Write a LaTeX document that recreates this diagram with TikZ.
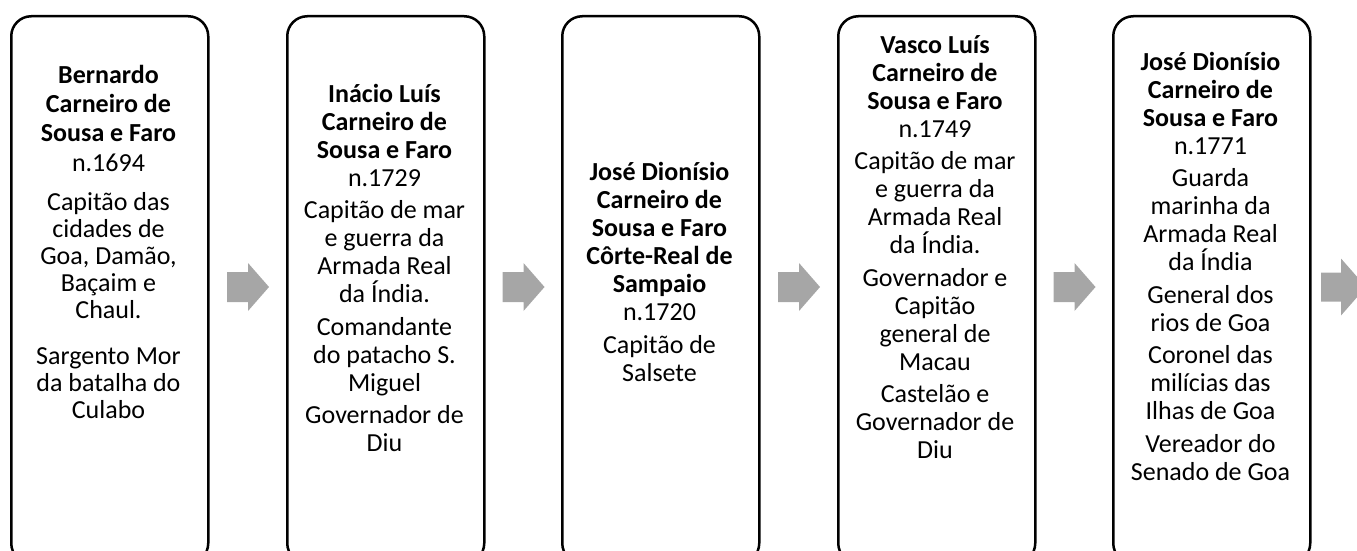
\documentclass[tikz,border=0pt]{standalone}
\usepackage{fontspec}
\setmainfont{Carlito}
\definecolor{arrowgray}{HTML}{A6A6A6}
\begin{document}
\begin{tikzpicture}[x=1pt,y=1pt,
  card/.style={draw=black, line width=2.5pt, rounded corners=20pt, minimum width=197pt, minimum height=547pt, inner sep=0pt, anchor=north west},
  txt/.style={anchor=north, align=center, inner sep=0pt, font=\fontsize{26}{28}\selectfont},
  blockarr/.pic={\fill[arrowgray] (-20.5,-15) -- (0.5,-15) -- (0.5,-24) -- (21.5,0) -- (0.5,24) -- (0.5,15) -- (-20.5,15) -- cycle;},
  lastarr/.pic={\fill[arrowgray] (0,-14.5) -- (20,-14.5) -- (20,-28.5) -- (45,0) -- (20,28.5) -- (20,14.5) -- (0,14.5) -- cycle;}]
\useasboundingbox (0,0) rectangle (1357,-551);
\begin{scope}
\clip (0,0) rectangle (1357,-551);
\node[card] (b1) at (10,-15) {};
\node[card] (b2) at (286,-15) {};
\node[card] (b3) at (561,-15) {};
\node[card] (b4) at (837,-15) {};
\node[card] (b5) at (1112,-15) {};

\node[txt, font=\fontsize{26}{27}\selectfont] (t1) at (108.5,-63) {\rule{0pt}{20pt}\textbf{Bernardo}\\[2pt]\textbf{Carneiro de}\\[2pt]\textbf{Sousa e Faro}\\[3pt]n.1694\\[12pt]Capitão das\\cidades de\\Goa, Damão,\\Baçaim e\\Chaul.\\[19pt]Sargento Mor\\da batalha do\\Culabo};
\node[txt] (t2) at (384.5,-82) {\rule{0pt}{20pt}\textbf{Inácio Luís}\\\textbf{Carneiro de}\\\textbf{Sousa e Faro}\\n.1729\\[4pt]Capitão de mar\\e guerra da\\Armada Real\\da Índia.\\[5pt]Comandante\\do patacho S.\\Miguel\\[4pt]Governador de\\Diu};
\node[txt] (t3) at (659.5,-160) {\rule{0pt}{20pt}\textbf{José Dionísio}\\\textbf{Carneiro de}\\\textbf{Sousa e Faro}\\\textbf{Côrte-Real de}\\\textbf{Sampaio}\\n.1720\\[5pt]Capitão de\\Salsete};
\node[txt] (t4) at (935,-33) {\rule{0pt}{20pt}\textbf{Vasco Luís}\\\textbf{Carneiro de}\\\textbf{Sousa e Faro}\\n.1749\\[4.5pt]Capitão de mar\\e guerra da\\Armada Real\\da Índia.\\[4.5pt]Governador e\\Capitão\\general de\\Macau\\[4.5pt]Castelão e\\Governador de\\Diu};
\node[txt] (t5) at (1210.5,-50) {\rule{0pt}{20pt}\textbf{José Dionísio}\\\textbf{Carneiro de}\\\textbf{Sousa e Faro}\\n.1771\\[4.5pt]Guarda\\marinha da\\Armada Real\\da Índia\\[4.5pt]General dos\\rios de Goa\\[4.5pt]Coronel das\\milícias das\\Ilhas de Goa\\[4.5pt]Vereador do\\Senado de Goa};

\pic at (247.5,-287) {blockarr};
\pic at (523,-287) {blockarr};
\pic at (798.5,-287) {blockarr};
\pic at (1074,-287) {blockarr};
\pic at (1321,-287) {lastarr};
\end{scope}
\end{tikzpicture}
\end{document}
